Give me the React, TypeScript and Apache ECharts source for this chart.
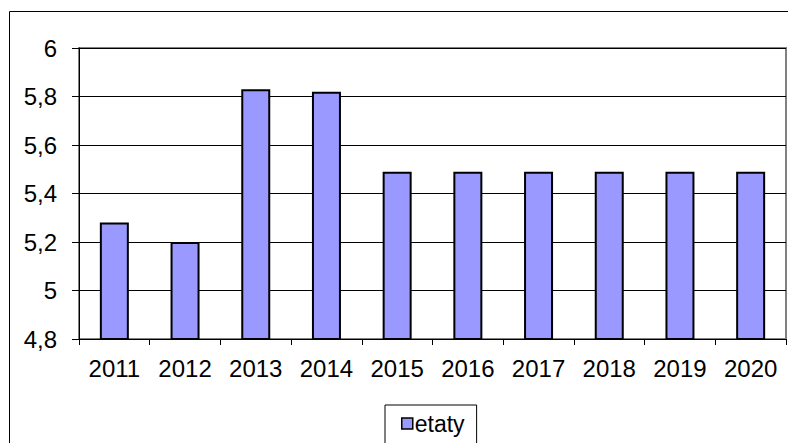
import React, { useEffect, useRef } from "react";
import * as echarts from "echarts";

const categories = ["2011", "2012", "2013", "2014", "2015", "2016", "2017", "2018", "2019", "2020"];
const etaty = [5.28, 5.2, 5.83, 5.82, 5.49, 5.49, 5.49, 5.49, 5.49, 5.49];
const seriesName = "etaty";
const yMin = 4.8;
const yMax = 6;
const yStep = 0.2;

export default function App() {
  const ref = useRef<HTMLDivElement>(null);
  useEffect(() => {
    document.body.style.margin = "0";
    const chart = echarts.init(ref.current!, null, { renderer: "svg" });
    const font = "'Liberation Sans', Arial, sans-serif";
    chart.setOption({
      animation: false,
      backgroundColor: "#ffffff",
      graphic: [
        {
          type: "rect",
          shape: { x: 9.5, y: 11.5, width: 790, height: 440 },
          style: { fill: "none", stroke: "#000000", lineWidth: 1 },
          silent: true,
        },
      ],
      grid: {
        left: 79,
        top: 48,
        right: 2,
        bottom: 104,
        show: true,
        borderColor: "#808080",
        borderWidth: 2,
        backgroundColor: "transparent",
      },
      legend: {
        data: [seriesName],
        left: 385,
        top: 405,
        padding: [7, 12, 20, 16],
        borderColor: "#000000",
        borderWidth: 1,
        icon: "rect",
        itemWidth: 11,
        itemHeight: 11,
        itemGap: 4,
        textStyle: { fontFamily: font, fontSize: 23, color: "#000", padding: [0, 0, 0, -3] },
        itemStyle: { borderColor: "#000", borderWidth: 1.5 },
      },
      xAxis: {
        type: "category",
        data: categories,
        axisLine: { show: true, lineStyle: { color: "#000", width: 1 } },
        axisTick: { show: true, length: 6, lineStyle: { color: "#000" } },
        axisLabel: { fontFamily: font, fontSize: 24, color: "#000", margin: 17 },
        splitLine: { show: false },
      },
      yAxis: {
        type: "value",
        min: yMin,
        max: yMax,
        interval: yStep,
        axisLine: { show: true, lineStyle: { color: "#000", width: 1 } },
        axisTick: { show: true, length: 7, lineStyle: { color: "#000" } },
        axisLabel: {
          fontFamily: font,
          fontSize: 24,
          color: "#000",
          margin: 22,
          formatter: (v: number) => String(parseFloat(v.toFixed(1))).replace(".", ","),
        },
        splitLine: { show: true, lineStyle: { color: "#000", width: 1 } },
      },
      series: [
        {
          name: seriesName,
          type: "bar",
          data: etaty,
          barWidth: 29,
          itemStyle: { color: "#9999ff", borderColor: "#000", borderWidth: 2 },
        },
      ],
    });
    return () => chart.dispose();
  }, []);
  return <div ref={ref} style={{ width: 788, height: 443 }} />;
}
